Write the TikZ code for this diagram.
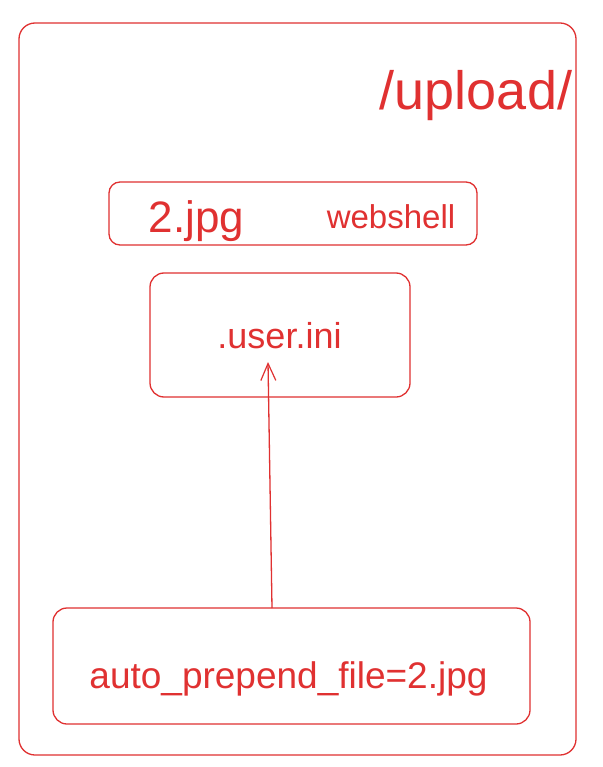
\documentclass[tikz,border=0pt]{standalone}
\usepackage{fontspec}
\setmainfont{Liberation Sans}
\usetikzlibrary{arrows.meta}
\definecolor{exred}{HTML}{E03131}
\tikzset{
  sketchbox/.style={draw=exred, line width=1.3pt, rounded corners=#1, minimum width=0pt, inner sep=0pt},
  sketchbox/.default=12pt,
  label/.style={text=exred, inner sep=0pt, anchor=base},
  conn/.style={draw=exred, line width=1.3pt, -{Straight Barb[length=17pt,width=15pt,line width=1.2pt]}}
}
\begin{document}
\begin{tikzpicture}[x=1pt,y=-1pt]
\useasboundingbox[fill=white] (0,0) rectangle (602,767);
\node[sketchbox=16pt, minimum width=557pt, minimum height=732pt] (outer) at (297.5,389) {};
\node[sketchbox=11pt, minimum width=368pt, minimum height=63pt] (jpgbox) at (293,213.5) {};
\node[sketchbox=14pt, minimum width=260pt, minimum height=124pt] (inibox) at (280,335) {};
\node[sketchbox=14pt, minimum width=477pt, minimum height=116pt] (prepbox) at (291.5,666) {};
\node[label, font=\fontsize{54}{60}\selectfont] (upload) at (476,110) {/upload/};
\node[label, font=\fontsize{44}{50}\selectfont] (jpg) at (196.5,232) {2.jpg};
\node[label, font=\fontsize{33}{38}\selectfont] (shell) at (391,228) {webshell};
\node[label, font=\fontsize{36}{42}\selectfont] (ini) at (279.5,348) {.user.ini};
\node[label, font=\fontsize{37}{42}\selectfont] (prep) at (288.5,688) {auto\_prepend\_file=2.jpg};
\coordinate (src) at (272,608);
\coordinate (tip) at (268,362);
\draw[conn] (src) -- (tip);
\end{tikzpicture}
\end{document}
